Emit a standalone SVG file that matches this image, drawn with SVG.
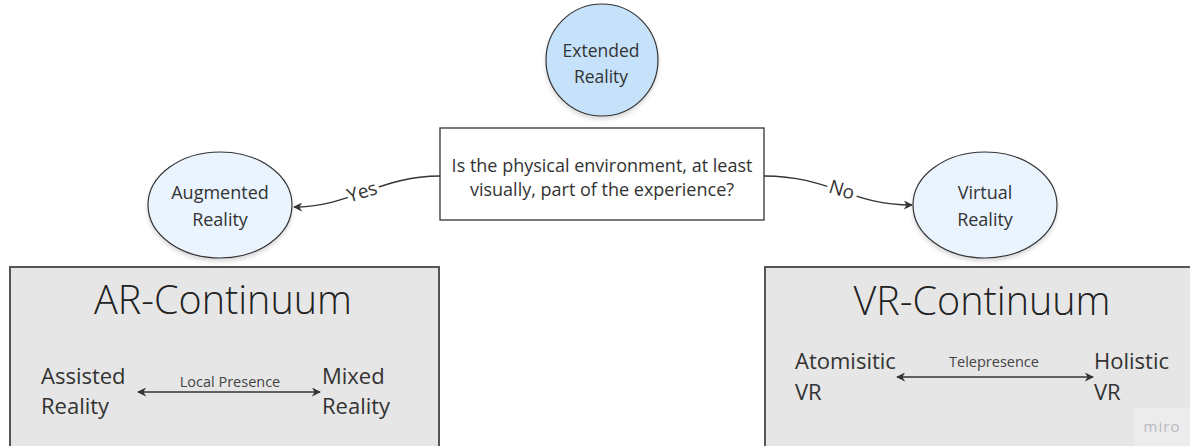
<svg xmlns="http://www.w3.org/2000/svg" width="1190" height="446" viewBox="0 0 1190 446">
<defs>
<marker id="arr" viewBox="0 0 10 10" refX="9" refY="5" markerWidth="9" markerHeight="9" markerUnits="userSpaceOnUse" orient="auto-start-reverse">
<path d="M0,0 L10,5 L0,10 L3,5 Z" fill="#333"/>
</marker>
<filter id="sh" x="-20%" y="-20%" width="140%" height="150%">
<feGaussianBlur in="SourceAlpha" stdDeviation="2"/>
<feOffset dy="3"/>
<feComponentTransfer><feFuncA type="linear" slope="0.15"/></feComponentTransfer>
<feMerge><feMergeNode/><feMergeNode in="SourceGraphic"/></feMerge>
</filter>
<style>
text{font-family:"Open Sans","Noto Sans","Liberation Sans",sans-serif;fill:#333}
.node{stroke:#333;stroke-width:1.2}
.box{fill:#e6e6e6;stroke:#555;stroke-width:2}
.t17{font-size:17.5px;text-anchor:middle}
.t18{font-size:18px;text-anchor:middle}
.title{font-size:39.5px;text-anchor:middle;fill:#222;font-weight:300}
.end{font-size:22px}
.small{font-size:14.5px;text-anchor:middle;fill:#444}
.lbl{font-size:19px;text-anchor:middle;stroke:#fff;stroke-width:8;paint-order:stroke;stroke-linejoin:round}
.conn{fill:none;stroke:#333;stroke-width:1.3}
</style>
</defs>
<rect width="1190" height="446" fill="#fff"/>

<g id="ar-continuum">
<rect class="box" x="10" y="267" width="429" height="190"/>
<text class="title" x="223" y="314">AR-Continuum</text>
<text class="end" x="41" y="384">Assisted</text>
<text class="end" x="41" y="414">Reality</text>
<text class="end" x="322" y="384">Mixed</text>
<text class="end" x="322" y="414">Reality</text>
<text class="small" x="230" y="387">Local Presence</text>
<line class="conn" x1="138" y1="392" x2="320" y2="392" marker-start="url(#arr)" marker-end="url(#arr)"/>
</g>

<g id="vr-continuum">
<rect class="box" x="765" y="267" width="440" height="190"/>
<text class="title" x="982" y="315">VR-Continuum</text>
<text class="end" x="795" y="369">Atomisitic</text>
<text class="end" x="795" y="400">VR</text>
<text class="end" x="1094" y="369">Holistic</text>
<text class="end" x="1094" y="400">VR</text>
<text class="small" x="994" y="367">Telepresence</text>
<line class="conn" x1="897" y1="377" x2="1093" y2="377" marker-start="url(#arr)" marker-end="url(#arr)"/>
<rect x="1134" y="408" width="56" height="38" fill="#ececec"/>
<text x="1162" y="432" style="font-size:15px;text-anchor:middle;fill:#b8b8c0;letter-spacing:1px">miro</text>
</g>

<g id="extended-reality">
<ellipse class="node" cx="602" cy="60" rx="56" ry="56" fill="#c6e2fa" filter="url(#sh)"/>
<text class="t17" x="601" y="57">Extended</text>
<text class="t17" x="601" y="83">Reality</text>
</g>

<g id="question">
<rect x="440" y="128" width="324" height="92" fill="#fff" stroke="#333" stroke-width="1.3"/>
<text class="t18" x="602" y="172">Is the physical environment, at least</text>
<text class="t18" x="602" y="196">visually, part of the experience?</text>
</g>

<g id="augmented-reality">
<ellipse class="node" cx="220" cy="205" rx="72" ry="53" fill="#e9f4fe" filter="url(#sh)"/>
<text class="t18" x="220" y="199">Augmented</text>
<text class="t18" x="220" y="226">Reality</text>
</g>

<g id="virtual-reality">
<ellipse class="node" cx="985" cy="205" rx="72" ry="53" fill="#e9f4fe" filter="url(#sh)"/>
<text class="t18" x="985" y="199">Virtual</text>
<text class="t18" x="985" y="226">Reality</text>
</g>

<g id="connectors">
<path class="conn" d="M440,176 C380,176 350,207 294,207" marker-end="url(#arr)"/>
<text class="lbl" transform="translate(364,198) rotate(-17)">Yes</text>
<path class="conn" d="M764,176 C830,176 850,205 912,205" marker-end="url(#arr)"/>
<text class="lbl" transform="translate(840,196) rotate(17)">No</text>
</g>
</svg>
